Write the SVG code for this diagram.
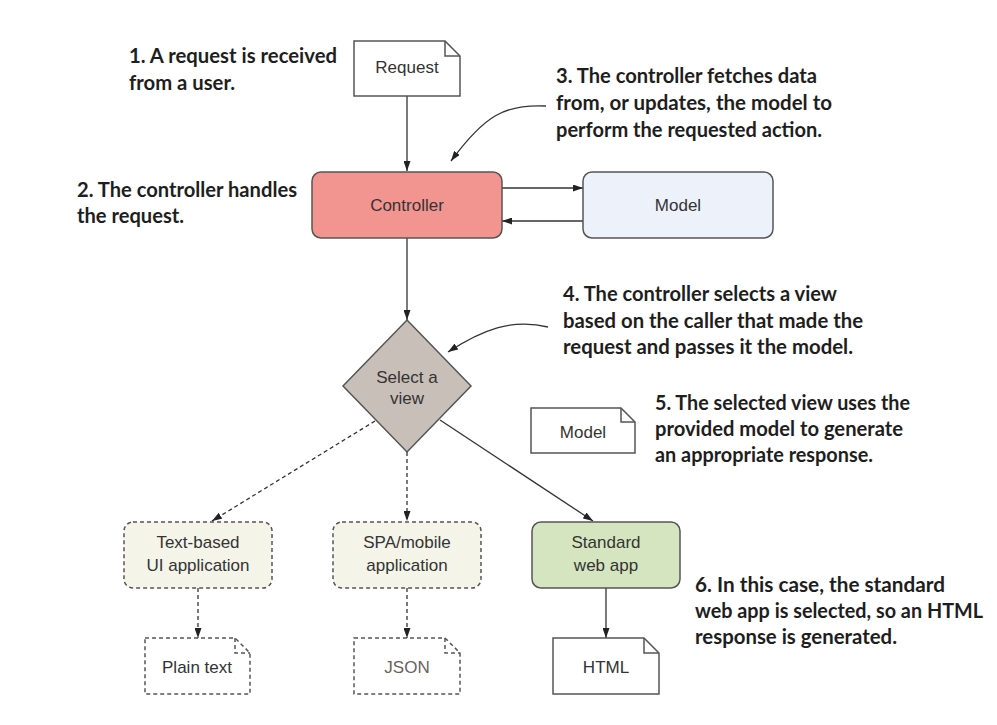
<svg xmlns="http://www.w3.org/2000/svg" width="997" height="725" viewBox="0 0 997 725">
<defs>
<style>
.note{font-family:Lato,"Liberation Sans",sans-serif;font-weight:bold;font-size:20px;fill:#1e1e1e}
.lbl{font-family:"Liberation Sans",Arial,sans-serif;font-size:17px;fill:#333;text-anchor:middle}
.shape{stroke:#555;stroke-width:1.5}
.dash{stroke-dasharray:4 3}
.conn{fill:none;stroke:#333;stroke-width:1.3}
</style>
<marker id="ah" viewBox="0 0 10 7" refX="10" refY="3.5" markerWidth="10" markerHeight="7" markerUnits="userSpaceOnUse" orient="auto">
<path d="M0,0 L10,3.5 L0,7 z" fill="#222"/>
</marker>
</defs>
<rect width="997" height="725" fill="#fff"/>

<g id="connectors">
<path class="conn" d="M407,96 V171" marker-end="url(#ah)"/>
<path class="conn" d="M502,188 H583" marker-end="url(#ah)"/>
<path class="conn" d="M583,221 H502" marker-end="url(#ah)"/>
<path class="conn" d="M407,238 V320" marker-end="url(#ah)"/>
<path class="conn dash" d="M375,421 L212,521" marker-end="url(#ah)"/>
<path class="conn dash" d="M407,452 V521" marker-end="url(#ah)"/>
<path class="conn" d="M440,420 L593,521" marker-end="url(#ah)"/>
<path class="conn dash" d="M198,588 V638" marker-end="url(#ah)"/>
<path class="conn dash" d="M407,588 V638" marker-end="url(#ah)"/>
<path class="conn" d="M606,588 V638" marker-end="url(#ah)"/>
<path class="conn" d="M546,106 C505,104 485,115 451,161" marker-end="url(#ah)"/>
<path class="conn" d="M548,327 C512,318 482,330 448,352" marker-end="url(#ah)"/>
</g>

<g id="request">
<path class="shape" fill="#fff" d="M354,41 H445 L460,56 V96 H354 Z"/>
<path class="shape" fill="none" d="M445,41 V56 H460"/>
<text class="lbl" x="407" y="73">Request</text>
</g>

<g id="controller">
<rect class="shape" x="312" y="172" width="190" height="66" rx="9" fill="#f29490"/>
<text class="lbl" x="407" y="211">Controller</text>
</g>

<g id="model">
<rect class="shape" x="583" y="172" width="190" height="66" rx="9" fill="#edf1fa"/>
<text class="lbl" x="678" y="211">Model</text>
</g>

<g id="select-view">
<path class="shape" fill="#c9bfb9" d="M407,320 L471,386 L407,452 L343,386 Z"/>
<text class="lbl" x="407" y="383">Select a</text>
<text class="lbl" x="407" y="404">view</text>
</g>

<g id="model-doc">
<path class="shape" fill="#fff" d="M531,408 H621 L635,422 V453 H531 Z"/>
<path class="shape" fill="none" d="M621,408 V422 H635"/>
<text class="lbl" x="583" y="438">Model</text>
</g>

<g id="text-ui">
<rect class="shape dash" x="124" y="522" width="148" height="66" rx="9" fill="#f4f4e9"/>
<text class="lbl" x="198" y="548">Text-based</text>
<text class="lbl" x="198" y="571">UI application</text>
</g>

<g id="spa">
<rect class="shape dash" x="333" y="522" width="148" height="66" rx="9" fill="#f4f4e9"/>
<text class="lbl" x="407" y="548">SPA/mobile</text>
<text class="lbl" x="407" y="571">application</text>
</g>

<g id="web-app">
<rect class="shape" x="532" y="522" width="148" height="66" rx="9" fill="#d5e5c0"/>
<text class="lbl" x="606" y="548">Standard</text>
<text class="lbl" x="606" y="571">web app</text>
</g>

<g id="plain-text">
<path class="shape dash" fill="#fff" d="M145,638 H235 L250,653 V694 H145 Z"/>
<path class="shape dash" fill="none" d="M235,638 V653 H250"/>
<text class="lbl" x="197" y="673">Plain text</text>
</g>

<g id="json">
<path class="shape dash" fill="#fff" d="M354,638 H445 L460,653 V694 H354 Z"/>
<path class="shape dash" fill="none" d="M445,638 V653 H460"/>
<text class="lbl" x="407" y="673" style="fill:#6b625e">JSON</text>
</g>

<g id="html">
<path class="shape" fill="#fff" d="M553,638 H644 L659,653 V694 H553 Z"/>
<path class="shape" fill="none" d="M644,638 V653 H659"/>
<text class="lbl" x="606" y="673">HTML</text>
</g>

<g id="notes">
<text class="note" x="129" y="63" textLength="208" lengthAdjust="spacingAndGlyphs">1. A request is received</text>
<text class="note" x="129" y="90" textLength="106" lengthAdjust="spacingAndGlyphs">from a user.</text>
<text class="note" x="77" y="197" textLength="220" lengthAdjust="spacingAndGlyphs">2. The controller handles</text>
<text class="note" x="77" y="223" textLength="107" lengthAdjust="spacingAndGlyphs">the request.</text>
<text class="note" x="556" y="83" textLength="261" lengthAdjust="spacingAndGlyphs">3. The controller fetches data</text>
<text class="note" x="556" y="110" textLength="276" lengthAdjust="spacingAndGlyphs">from, or updates, the model to</text>
<text class="note" x="556" y="137" textLength="266" lengthAdjust="spacingAndGlyphs">perform the requested action.</text>
<text class="note" x="563" y="301" textLength="274" lengthAdjust="spacingAndGlyphs">4. The controller selects a view</text>
<text class="note" x="563" y="328" textLength="300" lengthAdjust="spacingAndGlyphs">based on the caller that made the</text>
<text class="note" x="563" y="354" textLength="290" lengthAdjust="spacingAndGlyphs">request and passes it the model.</text>
<text class="note" x="655" y="410" textLength="255" lengthAdjust="spacingAndGlyphs">5. The selected view uses the</text>
<text class="note" x="655" y="436" textLength="248" lengthAdjust="spacingAndGlyphs">provided model to generate</text>
<text class="note" x="655" y="462" textLength="218" lengthAdjust="spacingAndGlyphs">an appropriate response.</text>
<text class="note" x="695" y="592" textLength="250" lengthAdjust="spacingAndGlyphs">6. In this case, the standard</text>
<text class="note" x="695" y="618" textLength="288" lengthAdjust="spacingAndGlyphs">web app is selected, so an HTML</text>
<text class="note" x="695" y="644" textLength="202" lengthAdjust="spacingAndGlyphs">response is generated.</text>
</g>
</svg>
